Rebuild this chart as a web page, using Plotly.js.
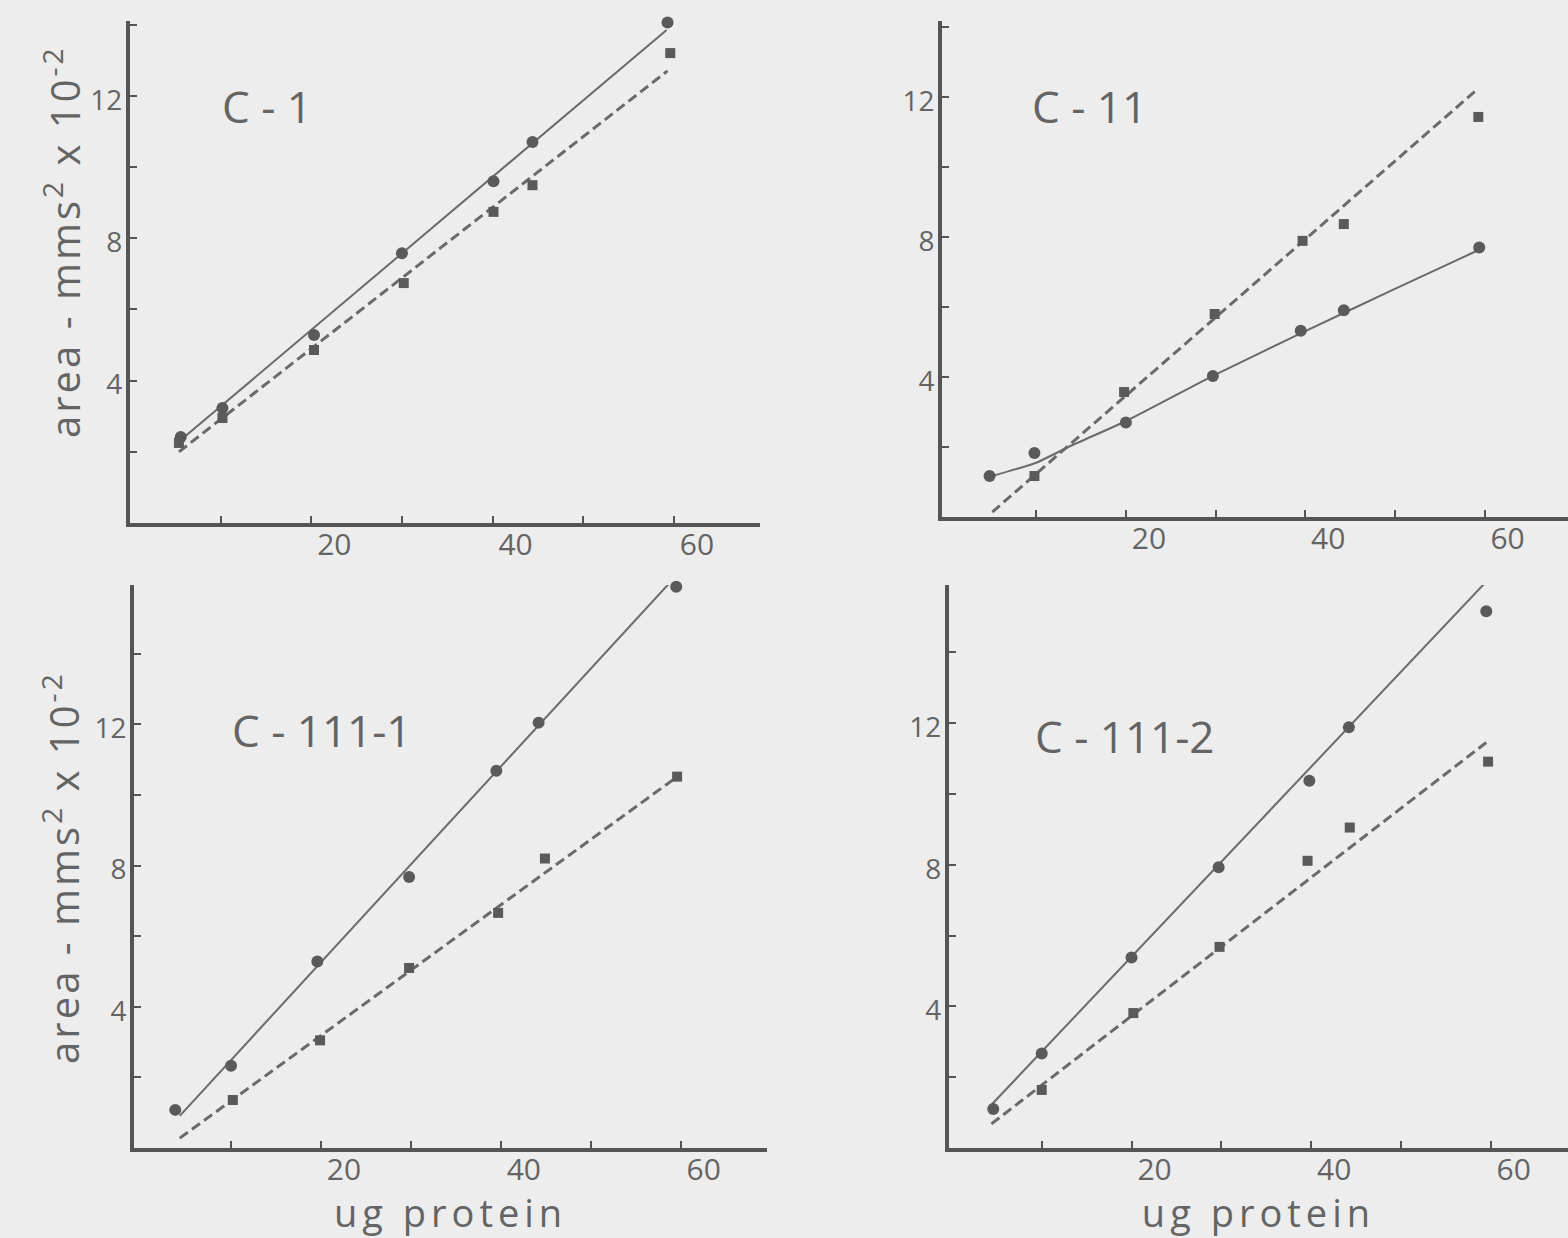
<!DOCTYPE html>
<html>
<head>
<meta charset="utf-8">
<script src="https://cdn.plot.ly/plotly-3.0.1.min.js"></script>
<style>
  html, body { margin: 0; padding: 0; background: #ededed; }
  #chart { width: 1568px; height: 1238px; }
  g.annotation[data-index="4"] text, g.annotation[data-index="5"] text { letter-spacing: 3px; }
  .x3title, .x4title { letter-spacing: 5px; }
</style>
</head>
<body>
<div id="chart"></div>
<script>
// Densitometer peak area against protein load, four fractions.
// Circles go with the solid lines, squares with the dashed lines.

// ---- C-1 ----
const c1CircleX = [5.6, 10.2, 20.3, 30.0, 40.1, 44.4, 59.3];
const c1CircleY = [2.42, 3.23, 5.28, 7.58, 9.6, 10.7, 14.06];
const c1SquareX = [5.4, 10.2, 20.3, 30.2, 40.1, 44.4, 59.6];
const c1SquareY = [2.25, 2.95, 4.86, 6.74, 8.74, 9.49, 13.2];
const c1SolidX = [5.6, 59.2];
const c1SolidY = [2.33, 13.85];
const c1DashX = [5.4, 59.3];
const c1DashY = [2.0, 12.7];

// ---- C-11 ----
const c2CircleX = [4.8, 9.8, 20.0, 29.7, 39.5, 44.3, 59.4];
const c2CircleY = [1.17, 1.83, 2.7, 4.03, 5.32, 5.91, 7.7];
const c2SquareX = [9.8, 19.8, 29.9, 39.7, 44.3, 59.3];
const c2SquareY = [1.17, 3.57, 5.8, 7.89, 8.37, 11.43];
const c2SolidX = [5.1, 10.0, 14.0, 20.1, 29.7, 39.6, 49.7, 59.1];
const c2SolidY = [1.17, 1.55, 2.05, 2.75, 4.03, 5.26, 6.48, 7.6];
const c2DashX = [5.1, 59.1];
const c2DashY = [0.14, 12.2];

// ---- C-111-1 ----
const c3CircleX = [3.8, 10.0, 19.6, 29.8, 39.5, 44.2, 59.5];
const c3CircleY = [1.08, 2.33, 5.28, 7.68, 10.69, 12.05, 15.9];
const c3SquareX = [10.2, 19.9, 29.8, 39.7, 44.9, 59.6];
const c3SquareY = [1.36, 3.05, 5.1, 6.66, 8.2, 10.52];
const c3SolidX = [4.3, 59.1];
const c3SolidY = [0.91, 16.1];
const c3DashX = [4.3, 59.3];
const c3DashY = [0.28, 10.46];

// ---- C-111-2 ----
const c4CircleX = [4.6, 10.0, 20.0, 29.7, 39.8, 44.2, 59.5];
const c4CircleY = [1.10, 2.67, 5.38, 7.93, 10.37, 11.88, 15.16];
const c4SquareX = [10.0, 20.2, 29.8, 39.6, 44.3, 59.7];
const c4SquareY = [1.64, 3.81, 5.68, 8.11, 9.05, 10.91];
const c4SolidX = [4.4, 59.3];
const c4SolidY = [1.22, 15.94];
const c4DashX = [4.4, 59.5];
const c4DashY = [0.68, 11.45];

// ---- labels ----
const panelNames = ['C - 1', 'C - 11', 'C - 111-1', 'C - 111-2'];
const xTickVals = [20, 40, 60];
const xMinorVals = [10, 30, 50];
const yTickVals = [4, 8, 12];
const yMinorVals = [2, 6, 10, 14];
const yTitleText = 'area - mms<sup>2</sup> x 10<sup>-2</sup>';
const xTitleText = 'ug protein';

// ---- styling ----
const FONT = 'Open Sans, Lato, sans-serif';
const TEXT = '#646464';
const AXIS = '#555555';
const INK = '#5a5a5a';
const LINE = '#6a6a6a';

const panels = [
  { cx: c1CircleX, cy: c1CircleY, sx: c1SquareX, sy: c1SquareY, lx: c1SolidX, ly: c1SolidY, dx: c1DashX, dy: c1DashY, spline: false },
  { cx: c2CircleX, cy: c2CircleY, sx: c2SquareX, sy: c2SquareY, lx: c2SolidX, ly: c2SolidY, dx: c2DashX, dy: c2DashY, spline: true },
  { cx: c3CircleX, cy: c3CircleY, sx: c3SquareX, sy: c3SquareY, lx: c3SolidX, ly: c3SolidY, dx: c3DashX, dy: c3DashY, spline: false },
  { cx: c4CircleX, cy: c4CircleY, sx: c4SquareX, sy: c4SquareY, lx: c4SolidX, ly: c4SolidY, dx: c4DashX, dy: c4DashY, spline: false }
];

// panel frames: domains (paper fraction) and value ranges
const frames = [
  { xd: [0.0829, 0.4847], xr: [0, 69.5],     yd: [0.5775, 0.9830], yr: [0, 14.1] },
  { xd: [0.6008, 1.0],    xr: [-0.5, 69.3],  yd: [0.5824, 0.9830], yr: [0, 14.17] },
  { xd: [0.0855, 0.4892], xr: [-0.78, 69.6], yd: [0.0727, 0.5275], yr: [0, 15.95] },
  { xd: [0.6052, 1.0],    xr: [-0.33, 68.6], yd: [0.0727, 0.5275], yr: [0, 15.9] }
];

const traces = [];
panels.forEach((p, i) => {
  const xa = i === 0 ? 'x' : 'x' + (i + 1);
  const ya = i === 0 ? 'y' : 'y' + (i + 1);
  traces.push({
    x: p.lx, y: p.ly, xaxis: xa, yaxis: ya, type: 'scatter', mode: 'lines',
    line: { color: LINE, width: 2, shape: p.spline ? 'spline' : 'linear', smoothing: 0.5 },
    cliponaxis: false, hoverinfo: 'skip', showlegend: false
  });
  traces.push({
    x: p.dx, y: p.dy, xaxis: xa, yaxis: ya, type: 'scatter', mode: 'lines',
    line: { color: LINE, width: 3, dash: '10px,5px' },
    cliponaxis: false, hoverinfo: 'skip', showlegend: false
  });
  traces.push({
    x: p.cx, y: p.cy, xaxis: xa, yaxis: ya, type: 'scatter', mode: 'markers',
    marker: { symbol: 'circle', size: 12, color: INK },
    cliponaxis: false, showlegend: false
  });
  traces.push({
    x: p.sx, y: p.sy, xaxis: xa, yaxis: ya, type: 'scatter', mode: 'markers',
    marker: { symbol: 'square', size: 10, color: INK },
    cliponaxis: false, showlegend: false
  });
});

const layout = {
  width: 1568, height: 1238,
  margin: { l: 0, r: 0, t: 0, b: 0 },
  paper_bgcolor: '#ededed', plot_bgcolor: 'rgba(0,0,0,0)',
  font: { family: FONT, color: TEXT },
  showlegend: false,
  annotations: []
};

frames.forEach((f, i) => {
  const xk = i === 0 ? 'xaxis' : 'xaxis' + (i + 1);
  const yk = i === 0 ? 'yaxis' : 'yaxis' + (i + 1);
  const yAnchor = i === 0 ? 'y' : 'y' + (i + 1);
  const xAnchor = i === 0 ? 'x' : 'x' + (i + 1);
  layout[xk] = {
    domain: f.xd, range: f.xr, anchor: yAnchor,
    showline: true, linecolor: AXIS, linewidth: 4,
    showgrid: false, zeroline: false,
    ticks: 'inside', ticklen: 7, tickwidth: 2, tickcolor: AXIS,
    tickmode: 'array', tickvals: xTickVals,
    minor: { tickmode: 'array', tickvals: xMinorVals, ticks: 'inside', ticklen: 7, tickwidth: 2, tickcolor: AXIS, showgrid: false },
    ticklabelshift: 23, ticklabelstandoff: -8,
    tickfont: { family: FONT, size: 30, color: TEXT }
  };
  if (i >= 2) {
    layout[xk].title = { text: xTitleText, font: { family: FONT, size: 38, color: TEXT }, standoff: 6 };
  }
  layout[yk] = {
    domain: f.yd, range: f.yr, anchor: xAnchor,
    showline: true, linecolor: AXIS, linewidth: 4,
    showgrid: false, zeroline: false,
    ticks: 'inside', ticklen: 7, tickwidth: 2, tickcolor: AXIS,
    tickmode: 'array', tickvals: yTickVals,
    minor: { tickmode: 'array', tickvals: yMinorVals, ticks: 'inside', ticklen: 7, tickwidth: 2, tickcolor: AXIS, showgrid: false },
    ticklabelshift: 4, ticklabelstandoff: -2,
    tickfont: { family: FONT, size: 28, color: TEXT }
  };
});

// panel names
const namePos = [[0.1403, 0.9144], [0.6569, 0.9144], [0.1467, 0.4103], [0.6588, 0.4055]];
panelNames.forEach((t, i) => {
  layout.annotations.push({
    text: t, xref: 'paper', yref: 'paper', x: namePos[i][0], y: namePos[i][1],
    xanchor: 'left', yanchor: 'middle', showarrow: false,
    font: { family: FONT, size: 44, color: TEXT }
  });
});

// y axis titles for the left column
[[0.0395, 0.8053], [0.0395, 0.2997]].forEach(pos => {
  layout.annotations.push({
    text: yTitleText, xref: 'paper', yref: 'paper', x: pos[0], y: pos[1],
    xanchor: 'center', yanchor: 'middle', textangle: -90, showarrow: false,
    font: { family: FONT, size: 40, color: TEXT }
  });
});

Plotly.newPlot('chart', traces, layout, { staticPlot: true, displayModeBar: false });
</script>
</body>
</html>
